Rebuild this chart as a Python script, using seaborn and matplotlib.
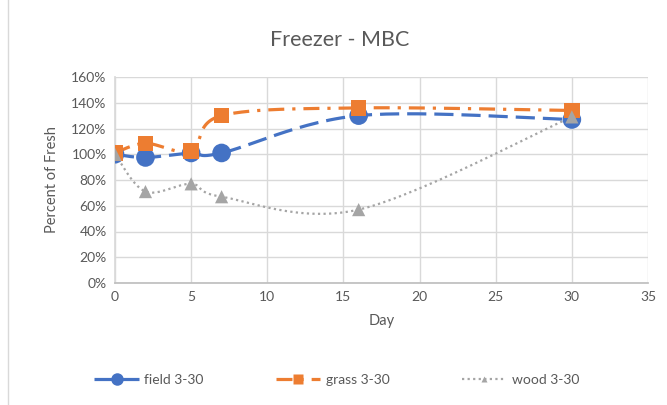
import numpy as np
import pandas as pd
import matplotlib
matplotlib.use("Agg")
import matplotlib.pyplot as plt
import seaborn as sns
from matplotlib.lines import Line2D
from matplotlib.patches import Rectangle

days = [0, 2, 5, 7, 16, 30]
field = [100, 97.5, 101, 101, 130, 127]
grass = [101, 108.5, 102.5, 130, 136, 134]
wood = [100, 71, 77, 67, 57, 129]
series_names = ["field 3-30", "grass 3-30", "wood 3-30"]
x_ticks = [0, 5, 10, 15, 20, 25, 30, 35]
y_ticks = [0, 20, 40, 60, 80, 100, 120, 140, 160]

sns.set_theme(style="white")
plt.rcParams['font.family'] = ['Lato', 'DejaVu Sans']

def smooth(x, y, n=30):
    # Excel-style Catmull-Rom smoothing (Bezier with tangent/6 control points)
    x = np.asarray(x, float); y = np.asarray(y, float)
    px = np.concatenate([[x[0]], x, [x[-1]]])
    py = np.concatenate([[y[0]], y, [y[-1]]])
    xs, ys = [], []
    for i in range(1, len(px) - 2):
        p0 = np.array([px[i], py[i]]); p3 = np.array([px[i+1], py[i+1]])
        c1 = p0 + (np.array([px[i+1], py[i+1]]) - np.array([px[i-1], py[i-1]])) / 6
        c2 = p3 - (np.array([px[i+2], py[i+2]]) - np.array([px[i], py[i]])) / 6
        t = np.linspace(0, 1, n)[:, None]
        b = (1-t)**3*p0 + 3*(1-t)**2*t*c1 + 3*(1-t)*t**2*c2 + t**3*p3
        xs.extend(b[:, 0]); ys.extend(b[:, 1])
    return np.array(xs), np.array(ys)

fig = plt.figure(figsize=(6.67, 4.05), dpi=100)
ax = fig.add_axes([115/667, 1-283/405, (648-115)/667, (283-77)/405])

colors = ["#4472C4", "#ED7D31", "#A5A5A5"]
dashes = [(6, 2.5), (5, 2.5, 1, 2.5), (1, 1.5)]
widths = [2.3, 2.3, 1.6]
markers = ["o", "s", "^"]
msizes = [180, 125, 90]

df = pd.DataFrame({"Day": days * 3,
                   "val": field + grass + wood,
                   "series": sum([[s] * len(days) for s in series_names], [])})

for vals, c, d, w in zip([field, grass, wood], colors, dashes, widths):
    sx, sy = smooth(days, vals)
    ax.plot(sx, sy, color=c, lw=w, dashes=d, zorder=2, solid_capstyle='butt')

for name, c, m, s in zip(series_names, colors, markers, msizes):
    sub = df[df.series == name]
    sns.scatterplot(data=sub, x="Day", y="val", color=c, marker=m, s=s,
                    edgecolor="none", ax=ax, zorder=3, legend=False)

ax.set_xlim(0, 35)
ax.set_ylim(0, 160)
ax.set_xticks(x_ticks)
ax.set_yticks(y_ticks)
ax.set_yticklabels([f"{v}%" for v in y_ticks])
ax.grid(True, color="#D9D9D9", lw=1)
ax.set_axisbelow(True)
for sp in ["top", "right"]:
    ax.spines[sp].set_visible(False)
ax.spines["left"].set_color("#D9D9D9")
ax.spines["bottom"].set_color("#BFBFBF")
ax.tick_params(axis="both", colors="#595959", labelsize=10, length=0, pad=6)
ax.set_xlabel("Day", color="#595959", fontsize=10.5, labelpad=8)
ax.set_ylabel("Percent of Fresh", color="#595959", fontsize=10.5, labelpad=9)
fig.text(0.51, 1-40/405, "Freezer - MBC", ha="center", va="center",
         color="#595959", fontsize=15.5)

handles = [Line2D([], [], color=c, lw=w, dashes=d, marker=m, markersize=ms,
                  markeredgecolor="none")
           for c, w, d, m, ms in zip(colors, widths, dashes, markers, [9, 7, 5])]
leg = fig.legend(handles, series_names, loc="center", ncol=3,
                 bbox_to_anchor=(0.505, 1-380/405), frameon=False,
                 columnspacing=5.2, handlelength=3.2, handletextpad=0.4,
                 fontsize=10)
for t in leg.get_texts():
    t.set_color("#595959")

fig.add_artist(Rectangle((8/667, -0.01), 1, 1.02, transform=fig.transFigure,
                         fill=False, edgecolor="#D9D9D9", lw=1))

fig.savefig("out.png", dpi=100)
